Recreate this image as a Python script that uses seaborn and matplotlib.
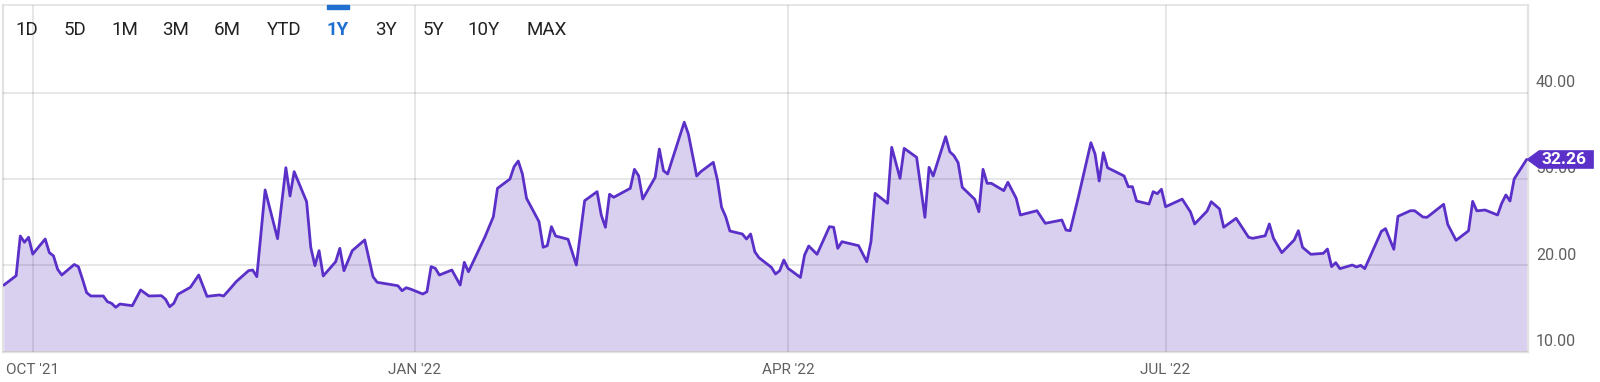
import matplotlib
matplotlib.use("Agg")
import matplotlib.pyplot as plt
import matplotlib.transforms as mtransforms
from matplotlib.path import Path
from matplotlib.patches import Rectangle
import seaborn as sns
import pandas as pd

# ---------------- data ----------------
dates = [
    "2021-09-24", "2021-09-27", "2021-09-28", "2021-09-29", "2021-09-30", "2021-10-01",
    "2021-10-04", "2021-10-05", "2021-10-06", "2021-10-07", "2021-10-08", "2021-10-11",
    "2021-10-12", "2021-10-13", "2021-10-14", "2021-10-15", "2021-10-18", "2021-10-19",
    "2021-10-20", "2021-10-21", "2021-10-22", "2021-10-25", "2021-10-27", "2021-10-29",
    "2021-11-01", "2021-11-02", "2021-11-03", "2021-11-04", "2021-11-05", "2021-11-08",
    "2021-11-10", "2021-11-12", "2021-11-15", "2021-11-16", "2021-11-18", "2021-11-19",
    "2021-11-22", "2021-11-23", "2021-11-24", "2021-11-26", "2021-11-29", "2021-12-01",
    "2021-12-02", "2021-12-03", "2021-12-06", "2021-12-07", "2021-12-08", "2021-12-09",
    "2021-12-10", "2021-12-13", "2021-12-14", "2021-12-15", "2021-12-17", "2021-12-20",
    "2021-12-22", "2021-12-23", "2021-12-28", "2021-12-29", "2021-12-30", "2021-12-31",
    "2022-01-03", "2022-01-04", "2022-01-05", "2022-01-06", "2022-01-07", "2022-01-10",
    "2022-01-12", "2022-01-13", "2022-01-14", "2022-01-18", "2022-01-20", "2022-01-21",
    "2022-01-24", "2022-01-25", "2022-01-26", "2022-01-27", "2022-01-28", "2022-01-31",
    "2022-02-01", "2022-02-02", "2022-02-03", "2022-02-04", "2022-02-07", "2022-02-09",
    "2022-02-11", "2022-02-14", "2022-02-15", "2022-02-16", "2022-02-17", "2022-02-18",
    "2022-02-22", "2022-02-23", "2022-02-24", "2022-02-25", "2022-02-28", "2022-03-01",
    "2022-03-02", "2022-03-03", "2022-03-07", "2022-03-08", "2022-03-10", "2022-03-11",
    "2022-03-14", "2022-03-15", "2022-03-16", "2022-03-17", "2022-03-18", "2022-03-21",
    "2022-03-22", "2022-03-23", "2022-03-24", "2022-03-25", "2022-03-28", "2022-03-29",
    "2022-03-30", "2022-03-31", "2022-04-01", "2022-04-04", "2022-04-05", "2022-04-06",
    "2022-04-08", "2022-04-11", "2022-04-12", "2022-04-13", "2022-04-14", "2022-04-18",
    "2022-04-20", "2022-04-21", "2022-04-22", "2022-04-25", "2022-04-26", "2022-04-28",
    "2022-04-29", "2022-05-02", "2022-05-04", "2022-05-05", "2022-05-06", "2022-05-09",
    "2022-05-10", "2022-05-11", "2022-05-12", "2022-05-13", "2022-05-16", "2022-05-17",
    "2022-05-18", "2022-05-19", "2022-05-20", "2022-05-23", "2022-05-24", "2022-05-26",
    "2022-05-27", "2022-05-31", "2022-06-02", "2022-06-06", "2022-06-07", "2022-06-08",
    "2022-06-10", "2022-06-13", "2022-06-14", "2022-06-15", "2022-06-16", "2022-06-17",
    "2022-06-21", "2022-06-22", "2022-06-23", "2022-06-24", "2022-06-27", "2022-06-28",
    "2022-06-29", "2022-06-30", "2022-07-01", "2022-07-05", "2022-07-07", "2022-07-08",
    "2022-07-11", "2022-07-12", "2022-07-14", "2022-07-15", "2022-07-18", "2022-07-21",
    "2022-07-22", "2022-07-25", "2022-07-26", "2022-07-27", "2022-07-29", "2022-08-01",
    "2022-08-02", "2022-08-03", "2022-08-05", "2022-08-08", "2022-08-09", "2022-08-10",
    "2022-08-11", "2022-08-12", "2022-08-15", "2022-08-16", "2022-08-17", "2022-08-18",
    "2022-08-22", "2022-08-23", "2022-08-25", "2022-08-26", "2022-08-29", "2022-08-30",
    "2022-09-01", "2022-09-02", "2022-09-06", "2022-09-07", "2022-09-09", "2022-09-12",
    "2022-09-13", "2022-09-14", "2022-09-16", "2022-09-19", "2022-09-20", "2022-09-21",
    "2022-09-22", "2022-09-23", "2022-09-26",
]
values = [
    17.70, 18.80, 23.40, 22.67, 23.25, 21.30,
    23.05, 21.47, 21.10, 19.54, 18.88, 20.10,
    19.85, 18.38, 16.83, 16.45, 16.45, 15.79,
    15.60, 15.14, 15.52, 15.33, 17.15, 16.45,
    16.49, 16.07, 15.21, 15.60, 16.65, 17.46,
    18.88, 16.41, 16.57, 16.45, 17.53, 18.10,
    19.38, 19.46, 18.69, 28.73, 23.09, 31.31,
    28.03, 30.85, 27.37, 22.09, 19.96, 21.70,
    18.77, 20.42, 21.97, 19.38, 21.70, 22.94,
    18.69, 18.04, 17.64, 17.06, 17.41, 17.26,
    16.68, 16.95, 19.85, 19.66, 18.88, 19.46,
    17.72, 20.35, 19.26, 23.32, 25.63, 28.92,
    30.00, 31.43, 32.08, 30.58, 27.76, 25.06,
    22.09, 22.28, 24.48, 23.40, 23.02, 20.04,
    27.49, 28.53, 25.83, 24.41, 28.23, 27.88,
    28.92, 31.12, 30.38, 27.68, 30.20, 33.47,
    30.96, 30.58, 36.57, 35.21, 30.35, 30.85,
    31.93, 29.88, 26.72, 25.63, 23.98, 23.63,
    23.05, 23.63, 21.58, 20.89, 19.77, 19.00,
    19.38, 20.62, 19.66, 18.60, 21.20, 22.24,
    21.28, 24.48, 24.41, 21.97, 22.74, 22.28,
    20.42, 22.74, 28.34, 27.19, 33.67, 30.08,
    33.55, 32.51, 25.56, 31.35, 30.35, 34.90,
    33.16, 32.70, 31.89, 29.04, 27.65, 26.21,
    31.12, 29.50, 29.50, 28.65, 29.62, 27.76,
    25.83, 26.33, 24.87, 25.25, 24.09, 24.01,
    27.95, 34.20, 32.90, 29.77, 33.05, 31.31,
    30.35, 29.11, 29.11, 27.45, 27.10, 28.53,
    28.30, 28.81, 26.79, 27.67, 26.18, 24.79,
    26.29, 27.37, 26.53, 24.41, 25.45, 23.25,
    23.13, 23.43, 24.79, 23.13, 21.47, 22.94,
    24.01, 22.09, 21.28, 21.39, 21.89, 19.85,
    20.31, 19.62, 20.04, 19.81, 20.00, 19.62,
    23.94, 24.25, 21.86, 25.68, 26.33, 26.33,
    25.60, 25.56, 27.07, 24.73, 22.90, 24.00,
    27.41, 26.31, 26.41, 25.83, 27.19, 28.15,
    27.45, 30.00, 32.26,
]
x_tick_dates = ["2021-10-01", "2022-01-01", "2022-04-01", "2022-07-01"]
x_tick_labels = ["OCT '21", "JAN '22", "APR '22", "JUL '22"]
y_ticks = [10, 20, 30, 40]
range_buttons = ["1D", "5D", "1M", "3M", "6M", "YTD", "1Y", "3Y", "5Y", "10Y", "MAX"]
active_button = "1Y"

# ---------------- style ----------------
sns.set_style("white")
plt.rcParams["font.family"] = ["Roboto", "DejaVu Sans"]

LINE = "#5a30c8"
FILL = "#d9d0f0"
BORDER = "#e2e2e2"
TXT = "#5f5f5f"
BLUE = "#1f6fd1"

W, H = 1600, 382
fig = plt.figure(figsize=(W / 100, H / 100), dpi=100)
fig.patch.set_facecolor("white")

ax_left, ax_right, ax_top, ax_bottom = 3, 1528, 5, 351.7
ax = fig.add_axes([ax_left / W, 1 - ax_bottom / H,
                   (ax_right - ax_left) / W, (ax_bottom - ax_top) / H])

df = pd.DataFrame({"date": pd.to_datetime(dates), "value": values})

ax.fill_between(df["date"], df["value"], 10, color=FILL, lw=0, zorder=1)
sns.lineplot(data=df, x="date", y="value", color=LINE, lw=2.0, ax=ax, zorder=3)

ax.set_xlim(pd.Timestamp("2021-09-23 20:00"), pd.Timestamp("2022-09-26 08:00"))
ax.set_ylim(10, 50.15)

ax.set_xlabel("")
ax.set_ylabel("")

# grid (semi-transparent so it darkens inside the filled area)
ax.set_axisbelow(False)
ax.grid(True, color="black", alpha=0.1, lw=1.3)

# x ticks
ax.set_xticks(pd.to_datetime(x_tick_dates))
ax.set_xticklabels(x_tick_labels)
ax.tick_params(axis="x", length=0, pad=8.0, labelsize=11, labelcolor=TXT)

# y ticks on right, labels raised above their gridlines
ax.yaxis.tick_right()
ax.set_yticks(y_ticks)
ax.set_yticklabels([f"{v:.2f}" for v in y_ticks])
ax.tick_params(axis="y", length=0, pad=5.8, labelsize=11.5, labelcolor=TXT)
shift = mtransforms.ScaledTranslation(0, 10 / 100, fig.dpi_scale_trans)
for lab in ax.get_yticklabels():
    lab.set_verticalalignment("center")
    lab.set_transform(lab.get_transform() + shift)

for side in ["left", "bottom", "right"]:
    ax.spines[side].set_color(BORDER)
    ax.spines[side].set_linewidth(1.6)
ax.spines["top"].set_color(BORDER)
ax.spines["top"].set_linewidth(1.2)


# last-value tag
def tag_box(x0, y0, width, height, mutation_size):
    pl = 0.15 * mutation_size
    pr = 0.4 * mutation_size
    pv = 0.08 * mutation_size
    xl, xr = x0 - pl, x0 + width + pr
    yb, yt = y0 - pv, y0 + height + pv
    tip = 0.7 * mutation_size
    ym = (yb + yt) / 2
    verts = [(xl - tip, ym), (xl, yt), (xr, yt), (xr, yb), (xl, yb), (xl - tip, ym)]
    codes = [Path.MOVETO] + [Path.LINETO] * 4 + [Path.CLOSEPOLY]
    return Path(verts, codes)


last_date = df["date"].iloc[-1]
last_val = df["value"].iloc[-1]
ax.annotate(f"{last_val:.2f}", xy=(last_date, last_val), xytext=(15, 0),
            textcoords="offset pixels", ha="left", va="center",
            fontsize=12.5, fontweight="bold", color="white",
            bbox=dict(boxstyle=tag_box, fc=LINE, ec=LINE, lw=0.5),
            annotation_clip=False, zorder=10)

# range selector buttons
btn_centers = [27, 75, 125, 176, 227, 284, 338, 386, 433, 484, 547]
for lab, cx in zip(range_buttons, btn_centers):
    active = lab == active_button
    fig.text(cx / W, 1 - 30 / H, lab, ha="center", va="center",
             fontsize=13.5, color=BLUE if active else "#222222",
             fontweight="bold" if active else "normal")
    if active:
        fig.patches.append(Rectangle(((cx - 11) / W, 1 - 9 / H), 22 / W, 4 / H,
                                     transform=fig.transFigure, color=BLUE,
                                     zorder=5))

fig.savefig("out.png", dpi=100, facecolor="white")
